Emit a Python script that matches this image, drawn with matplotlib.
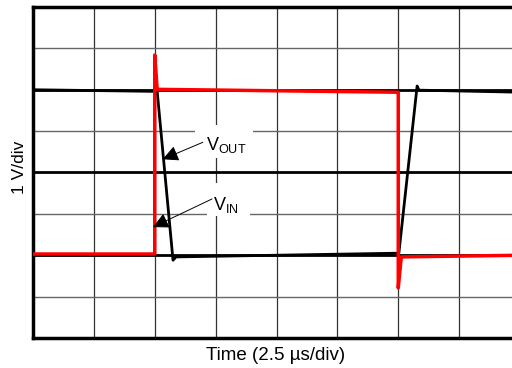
import matplotlib
matplotlib.use('Agg')
import matplotlib.pyplot as plt
from matplotlib.patches import Rectangle

plt.rcParams['font.family'] = ['Liberation Sans', 'DejaVu Sans']
plt.rcParams['mathtext.fontset'] = 'custom'
plt.rcParams['mathtext.rm'] = 'Liberation Sans'

# traces, in scope divisions (x: 2.5 us/div, y: 1 V/div)
vin_t = [0, 2.0, 2.0, 2.04, 6.0, 6.0, 6.05, 8.0]
vin_v = [2.03, 2.03, 6.84, 6.01, 5.94, 1.21, 1.96, 2.0]
vout_t = [0, 2.04, 2.30, 2.35, 6.01, 6.31, 6.34, 8.0]
vout_v = [6.0, 5.96, 1.88, 1.96, 2.05, 6.09, 5.99, 5.94]

fig = plt.figure(figsize=(5.12, 3.68), dpi=100)
ax = fig.add_axes([33/512, 30/368, 487/512, 331/368])
ax.set_xlim(0, 8)
ax.set_ylim(0, 8)
ax.set_xticks([])
ax.set_yticks([])

# scope graticule
for gx in range(1, 8):
    ax.axvline(gx, color='#333333', lw=0.9, zorder=1)
for gy in [1, 3, 5, 7]:
    ax.axhline(gy, color='#666666', lw=1.0, zorder=1)
for gy in [2, 4, 6]:
    ax.axhline(gy, color='black', lw=2.0, zorder=1)

for side in ['left', 'top', 'bottom', 'right']:
    ax.spines[side].set_linewidth(2.5)

# white boxes behind the labels
ax.add_patch(Rectangle((2.66, 4.35), 0.95, 0.79, facecolor='white', edgecolor='none', zorder=2))
ax.add_patch(Rectangle((2.86, 2.95), 0.70, 0.79, facecolor='white', edgecolor='none', zorder=2))

ax.plot(vout_t, vout_v, color='black', lw=2.0, zorder=3)
ax.plot(vin_t, vin_v, color='#ff0000', lw=2.5, zorder=4)

arrow = dict(arrowstyle='-|>', lw=0.7, color='black', mutation_scale=24, shrinkA=0, shrinkB=0)
ax.annotate('', xy=(2.13, 4.32), xytext=(2.79, 4.73), arrowprops=arrow, zorder=5)
ax.annotate('', xy=(1.97, 2.68), xytext=(2.94, 3.36), arrowprops=arrow, zorder=5)
ax.text(2.84, 4.54, r'$\mathregular{V_{OUT}}$', fontsize=13, ha='left', va='baseline', zorder=6)
ax.text(2.96, 3.09, r'$\mathregular{V_{IN}}$', fontsize=13, ha='left', va='baseline', zorder=6)

fig.text(276/512, 1 - 355/368, 'Time (2.5 µs/div)', fontsize=13.5, ha='center', va='center')
fig.text(20/512, 1 - 167/368, '1 V/div', fontsize=12.5, ha='center', va='center', rotation=90)

fig.savefig('out.png', dpi=100)
